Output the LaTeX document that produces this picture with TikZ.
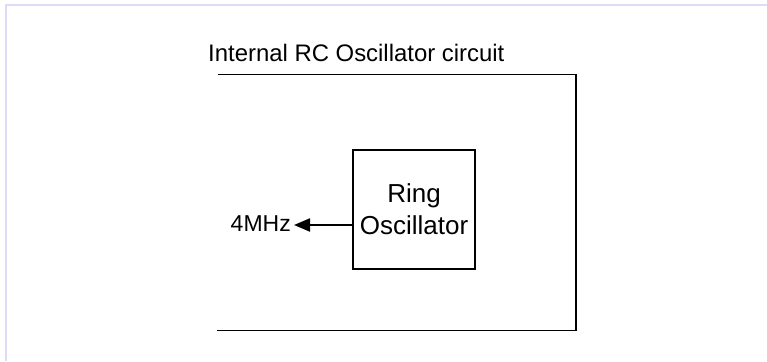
\documentclass[tikz,border=0pt]{standalone}
\usepackage{fontspec}
\setmainfont{Liberation Sans}
\usetikzlibrary{arrows.meta}
\definecolor{framelav}{HTML}{DCDCF8}
\begin{document}
\begin{tikzpicture}[x=1pt,y=-1pt,
  lbl/.style={font=\fontsize{23.9}{27}\selectfont, inner sep=0pt},
  blk/.style={draw=black, line width=1.8pt, minimum width=122pt, minimum height=119pt, inner sep=0pt, align=center, font=\fontsize{26}{32}\selectfont},
  conn/.style={line width=2.2pt, -{Triangle[length=16pt,width=13pt]}}]
\useasboundingbox (0,0) rectangle (767,361);
\fill[white] (0,0) rectangle (767,361);
% faint page frame
\draw[framelav, line width=2pt] (6,361) -- (6,5) -- (767,5);
% outer open frame
\draw[line width=1.8pt] (218,74.5) -- (576,74.5) -- (576,330.5) -- (217,330.5);
\node[lbl, anchor=base west] (title) at (208,61) {Internal RC Oscillator circuit};
\node[blk] (ring) at (414,209.5) {Ring\\Oscillator};
\node[lbl, font=\fontsize{23}{27}\selectfont, anchor=base east] (mhz) at (291,231) {4MHz};
\coordinate (tip) at (294,225);
\draw[conn] (ring.west |- tip) -- (tip);
\end{tikzpicture}
\end{document}
